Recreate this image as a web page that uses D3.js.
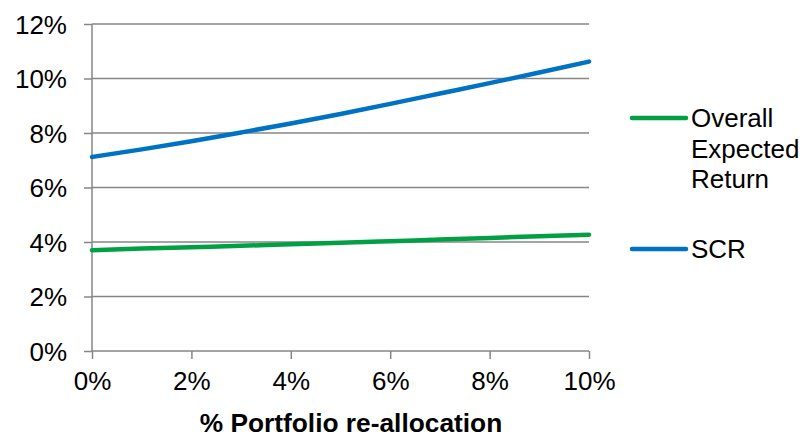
<!DOCTYPE html>
<html>
<head>
<meta charset="utf-8">
<script src="https://cdn.jsdelivr.net/npm/d3@7"></script>
<style>
  html, body { margin: 0; padding: 0; background: #fff; }
  svg text { font-family: Arial, "Liberation Sans", sans-serif; fill: #000; }
</style>
</head>
<body>
<svg id="chart" width="804" height="439"></svg>
<script>
// Share of the portfolio re-allocated (%)
const reallocation = [0, 1, 2, 3, 4, 5, 6, 7, 8, 9, 10];
// Overall expected return (%)
const expectedReturn = [3.70, 3.76, 3.81, 3.86, 3.92, 3.97, 4.03, 4.09, 4.15, 4.21, 4.27];
// Solvency capital requirement (%)
const scr = [7.12, 7.40, 7.70, 8.02, 8.35, 8.70, 9.07, 9.45, 9.83, 10.22, 10.62];

const xTicks = [0, 2, 4, 6, 8, 10];
const yTicks = [0, 2, 4, 6, 8, 10, 12];

const seriesNames = ["Overall Expected Return", "SCR"];
const seriesLegendLines = [["Overall", "Expected", "Return"], ["SCR"]];
const seriesColors = ["#02A045", "#0072C4"];

const svg = d3.select("#chart");
const plot = { left: 92, right: 589, top: 24, bottom: 351 };

const x = d3.scaleLinear().domain([0, 10]).range([plot.left, plot.right]);
const y = d3.scaleLinear().domain([0, 12]).range([plot.bottom, plot.top]);

const gridColor = "#868686";

// horizontal gridlines
svg.append("g")
  .selectAll("line")
  .data(yTicks.filter(d => d > 0))
  .join("line")
  .attr("x1", plot.left).attr("x2", plot.right)
  .attr("y1", d => y(d)).attr("y2", d => y(d))
  .attr("stroke", gridColor).attr("stroke-width", 1.5);

// y axis
const yAxis = svg.append("g")
  .attr("transform", `translate(${plot.left},0)`)
  .call(d3.axisLeft(y).tickValues(yTicks).tickSize(8).tickPadding(17)
    .tickFormat(d => d + "%"));
yAxis.select(".domain").attr("stroke", gridColor).attr("stroke-width", 1.5).attr("d", `M0,${plot.top}V${plot.bottom}`);
yAxis.selectAll(".tick line").attr("stroke", gridColor).attr("stroke-width", 1.5);
yAxis.selectAll(".tick text").attr("font-size", 26).attr("fill", "#000")
  .attr("font-family", "Arial, 'Liberation Sans', sans-serif").attr("dy", "0.36em");

// x axis
const xAxis = svg.append("g")
  .attr("transform", `translate(0,${plot.bottom})`)
  .call(d3.axisBottom(x).tickValues(xTicks).tickSize(8).tickPadding(13)
    .tickFormat(d => d + "%"));
xAxis.select(".domain").attr("stroke", gridColor).attr("stroke-width", 1.5).attr("d", `M${plot.left},0H${plot.right}`);
xAxis.selectAll(".tick line").attr("stroke", gridColor).attr("stroke-width", 1.5);
xAxis.selectAll(".tick text").attr("font-size", 26).attr("fill", "#000")
  .attr("font-family", "Arial, 'Liberation Sans', sans-serif");

// axis title
svg.append("text")
  .attr("x", 351)
  .attr("y", 432)
  .attr("text-anchor", "middle")
  .attr("font-size", 26.3)
  .attr("font-weight", "bold")
  .text("% Portfolio re-allocation");

// series lines
const line = d3.line()
  .x((d, i) => x(reallocation[i]))
  .y(d => y(d))
  .curve(d3.curveMonotoneX);
[expectedReturn, scr].forEach((vals, i) => {
  svg.append("path")
    .datum(vals)
    .attr("d", line)
    .attr("fill", "none")
    .attr("stroke", seriesColors[i])
    .attr("stroke-width", 4.5)
    .attr("stroke-linecap", "round")
    .attr("stroke-linejoin", "round");
});

// legend
const legendY = [118, 249];
seriesNames.forEach((name, i) => {
  const g = svg.append("g").attr("transform", `translate(632,${legendY[i]})`);
  g.append("line")
    .attr("x1", 0).attr("x2", 54)
    .attr("stroke", seriesColors[i]).attr("stroke-width", 4.5)
    .attr("stroke-linecap", "round");
  const t = g.append("text")
    .attr("x", 59).attr("y", 9)
    .attr("font-size", 26);
  seriesLegendLines[i].forEach((w, j) => {
    t.append("tspan").attr("x", 59).attr("dy", j === 0 ? 0 : 30.5).text(w);
  });
});
</script>
</body>
</html>
